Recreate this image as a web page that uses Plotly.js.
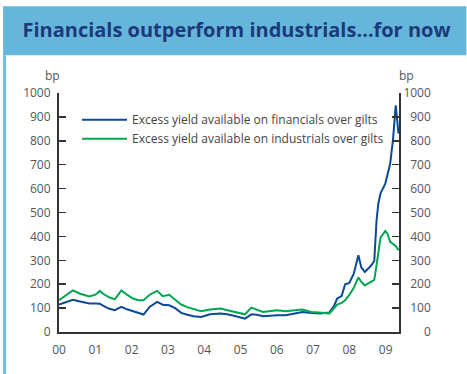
<!DOCTYPE html>
<html>
<head>
<meta charset="utf-8">
<script src="https://cdn.plot.ly/plotly-3.0.1.min.js"></script>
<style>html,body{margin:0;padding:0;background:#fff;}#chart{width:467px;height:374px;}</style>
</head>
<body>
<div id="chart"></div>
<script>
// Dates of observations
var dates = [
 "2000-01-01","2000-03-01","2000-05-20","2000-08-01","2000-11-01",
 "2001-01-01","2001-02-15","2001-03-20","2001-05-15","2001-07-15","2001-09-20","2001-11-15",
 "2002-01-15","2002-03-10","2002-05-01","2002-07-01","2002-09-15","2002-11-10",
 "2003-01-15","2003-03-15","2003-05-15","2003-07-15","2003-09-15","2003-12-01",
 "2004-03-01","2004-06-15","2004-09-01","2004-11-15",
 "2005-02-15","2005-04-20","2005-06-15","2005-08-15","2005-10-15",
 "2006-01-01","2006-04-01","2006-07-01","2006-09-15","2006-12-15",
 "2007-03-15","2007-06-15","2007-08-01","2007-09-01","2007-10-15","2007-11-20",
 "2008-01-01","2008-02-15","2008-04-01","2008-05-01","2008-06-05","2008-07-15","2008-08-10","2008-09-08",
 "2008-10-01","2008-10-20","2008-11-10","2008-12-28",
 "2009-01-20","2009-02-15","2009-03-15","2009-04-12","2009-05-10"
];
// Excess yield on financials over gilts (bp)
var financials = [
 115,125,135,128,119,
 119,118,110,98,91,105,95,
 88,80,73,105,126,114,
 112,100,80,72,66,63,
 74,77,73,66,
 56,74,72,66,68,
 70,70,78,84,80,
 77,82,110,140,150,200,
 205,244,321,270,251,268,279,297,
 467,540,580,621,
 660,704,802,948,830
];
// Excess yield on industrials over gilts (bp)
var industrials = [
 133,150,174,160,149,
 156,172,160,146,137,174,156,
 140,133,133,156,172,150,
 156,135,115,104,95,87,
 94,98,90,84,
 74,102,94,84,87,
 91,87,92,94,84,
 80,78,100,115,122,133,
 155,185,228,210,195,205,212,218,
 280,342,395,423,
 410,377,370,360,342
];
var yTicks = [0,100,200,300,400,500,600,700,800,900,1000];
var yTickTextRight = yTicks.map(function(v){
  var s = String(v);
  while (s.length < 4) s = "\u2007" + s;
  return s;
});
var seriesNames = ["Excess yield available on financials over gilts","Excess yield available on industrials over gilts"];

var fontFam = "Open Sans, DejaVu Sans, sans-serif";
var traces = [
  {x: dates, y: financials, type: "scatter", mode: "lines", name: seriesNames[0],
   line: {color: "#0B4A96", width: 2}},
  {x: dates, y: industrials, type: "scatter", mode: "lines", name: seriesNames[1],
   line: {color: "#00A651", width: 2}}
];

// plot area pixel geometry helpers
var L = 59, R = 399.5, T = 92.7, B = 331.7;
function px(x){ return (x - L) / (R - L); }
function py(y){ return (B - y) / (B - T); }

var layout = {
  width: 467, height: 374,
  margin: {l: L, r: 467 - R, t: T, b: 374 - B, pad: 0},
  paper_bgcolor: "#ffffff", plot_bgcolor: "#ffffff",
  showlegend: true,
  legend: {x: px(77), y: py(105), xanchor: "left", yanchor: "top",
           itemwidth: 45,
           bgcolor: "rgba(0,0,0,0)", borderwidth: 0,
           font: {family: fontFam, size: 12, color: "#444"}},
  title: {text: "Financials outperform industrials\u2026for now",
          x: 236.5/467, xanchor: "center", y: 1 - 30/374, yanchor: "middle",
          xref: "container", yref: "container",
          font: {family: fontFam, size: 20, color: "#1B3A7A", weight: "bold"}},
  xaxis: {type: "date", range: ["2000-01-01", "2009-05-15"],
          tick0: "2000-01-01", dtick: "M12", tickformat: "%y",
          ticks: "", showgrid: false, zeroline: false,
          showline: true, linecolor: "#333", linewidth: 2,
          ticklabelstandoff: 6,
          tickfont: {family: fontFam, size: 12, color: "#555"}},
  yaxis: {range: [0, 1000], tickvals: yTicks, ticks: "inside", ticklen: 7,
          tickwidth: 1.5, tickcolor: "#333", showgrid: false, zeroline: false,
          showline: true, linecolor: "#333", linewidth: 2,
          ticklabelstandoff: 4,
          tickfont: {family: fontFam, size: 12, color: "#555"}},
  yaxis2: {range: [0, 1000], overlaying: "y", side: "right", tickvals: yTicks,
           ticktext: yTickTextRight,
           ticks: "inside", ticklen: 7, tickwidth: 1.5, tickcolor: "#333",
           showgrid: false, zeroline: false, showline: true, linecolor: "#333", linewidth: 2,
           tickfont: {family: fontFam, size: 12, color: "#555"}},
  shapes: [
    {type: "rect", xref: "paper", yref: "paper", x0: px(3), x1: px(467), y0: py(55), y1: py(6),
     fillcolor: "#66B6DC", line: {width: 0}, layer: "below"},
    {type: "rect", xref: "paper", yref: "paper", x0: px(3), x1: px(6), y0: py(374), y1: py(55),
     fillcolor: "#6BBDE3", line: {width: 0}, layer: "below"}
  ],
  annotations: [
    {text: "bp", xref: "paper", yref: "paper", x: px(52), y: py(75), xanchor: "center", yanchor: "middle",
     showarrow: false, font: {family: fontFam, size: 12, color: "#555"}},
    {text: "bp", xref: "paper", yref: "paper", x: px(407), y: py(75), xanchor: "center", yanchor: "middle",
     showarrow: false, font: {family: fontFam, size: 12, color: "#555"}}
  ]
};
// dummy invisible trace to attach yaxis2
traces.push({x: [dates[0]], y: [0], yaxis: "y2", type: "scatter", mode: "markers",
             marker: {opacity: 0}, showlegend: false, hoverinfo: "skip"});

Plotly.newPlot("chart", traces, layout, {staticPlot: true, displayModeBar: false});
</script>
</body>
</html>
